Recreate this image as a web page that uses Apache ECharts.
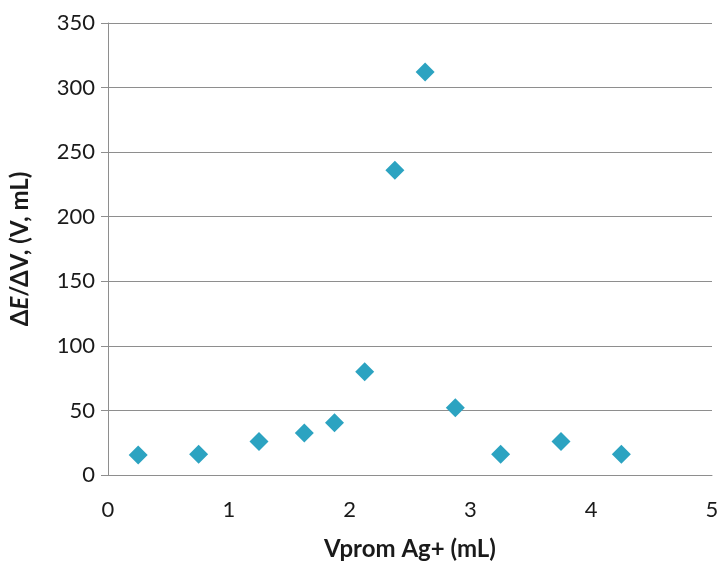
<!DOCTYPE html>
<html>
<head>
<meta charset="utf-8">
<script src="https://cdn.jsdelivr.net/npm/echarts@6/dist/echarts.min.js"></script>
<style>
html,body{margin:0;padding:0;background:#fff;}
#chart{width:722px;height:563px;}
</style>
</head>
<body>
<div id="chart"></div>
<script>
const xValues = [0.25, 0.75, 1.25, 1.625, 1.875, 2.125, 2.375, 2.625, 2.875, 3.25, 3.75, 4.25];
const yValues = [15.5, 16, 26, 32.5, 40.5, 80, 236, 312, 52, 16, 26, 16];
const xTitle = 'Vprom Ag+ (mL)';
const FONT = 'Lato';
const TXT = '#1a1a1a';

const chart = echarts.init(document.getElementById('chart'));
chart.setOption({
  animation: false,
  backgroundColor: '#fff',
  grid: { left: 108, top: 23, right: 10, bottom: 88, containLabel: false, outerBoundsMode: 'none' },
  xAxis: {
    type: 'value', min: 0, max: 5, interval: 1,
    name: xTitle, nameLocation: 'middle', nameGap: 62,
    nameTextStyle: { fontFamily: FONT, fontSize: 24, fontWeight: 'bold', color: TXT },
    axisLine: { show: true, lineStyle: { color: '#8e8e8e', width: 1 } },
    axisTick: { show: false },
    splitLine: { show: false },
    axisLabel: { fontFamily: FONT, fontSize: 22, color: TXT, margin: 24 }
  },
  yAxis: {
    type: 'value', min: 0, max: 350, interval: 50,
    name: '{b|Δ}{i|E}{b|/ΔV, (V, mL)}',
    nameLocation: 'middle', nameGap: 76, nameRotate: 90,
    nameTextStyle: {
      fontFamily: FONT, fontSize: 24, fontWeight: 'bold', color: TXT,
      rich: {
        b: { fontFamily: FONT, fontSize: 24, fontWeight: 'bold', color: TXT },
        i: { fontFamily: FONT, fontSize: 24, fontWeight: 'bold', fontStyle: 'italic', color: TXT }
      }
    },
    axisLine: { show: true, lineStyle: { color: '#8e8e8e', width: 1 } },
    axisTick: { show: true, inside: false, length: 7, lineStyle: { color: '#8e8e8e' } },
    splitLine: { show: true, lineStyle: { color: '#8e8e8e', width: 1 } },
    axisLabel: { fontFamily: FONT, fontSize: 22, color: TXT, margin: 13 }
  },
  series: [{
    type: 'scatter',
    symbol: 'diamond',
    symbolSize: 19,
    itemStyle: { color: '#2CA3C1', opacity: 1 },
    data: xValues.map((x, i) => [x, yValues[i]])
  }]
});
</script>
</body>
</html>
